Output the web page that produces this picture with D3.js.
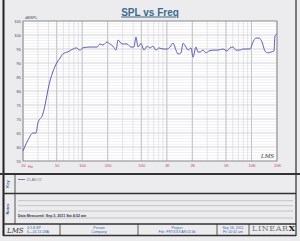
<!DOCTYPE html>
<html>
<head>
<meta charset="utf-8">
<script src="https://cdn.jsdelivr.net/npm/d3@7"></script>
<style>
body{margin:0;background:#ececef;}
svg{display:block;font-family:Arial,"Liberation Sans",sans-serif;}
</style>
</head>
<body>
<svg id="chart" width="300" height="241"></svg>
<script>
// frequency response
const freqs = [20,24,26,28.5,30,34,42,45,50,55,59,68,78,85,94,102,124,150,162,176,196,213,231,251,265,295,338,377,409,432,456,495,537,583,632,686,744,807,900,1004,1089,1182,1282,1354,1469,1551,1683,1777,1928,2036,2209,2333,2462,2672,2900,3146,3508,4018,4602,5133,5572,6040,6556,7311,7928,8844,9594,10412,11300,12256,13300,14420,15654,16980,18420,18920,20000];
const spl = [58.6,63.6,65,65,68.6,71.4,84,86.8,90,91.8,93.2,94,95,95.4,94.6,95.4,95.7,95.7,96.8,96.4,97.5,96.8,96,94.6,98.2,96.8,96.8,95.7,95.7,99.3,95.7,97,94.6,96,95.4,96,94.6,95.4,95,95,95.7,97.1,94.6,93.2,93.6,97,95.7,94.6,95.4,92.1,95.7,93.9,93.9,94.6,93.6,94.3,94.6,94.6,95,94.3,95.4,95.7,94.6,94.6,95,95,95,97.5,98.9,98.9,97.5,94.3,93.6,93.9,94.3,99.6,100.4];

const xTicks = [20,50,100,200,500,1000,2000,5000,10000,20000];
const xTickLabels = ["20","50","100","200","500","1K","2K","5K","10K","20K"];
const yTicks = [55,60,65,70,75,80,85,90,95,100,105];

const svg = d3.select("#chart");
const margin = {top:21,right:23,bottom:80,left:23},
width = 300 - margin.left - margin.right,
height = 241 - margin.top - margin.bottom;

// outer frame
svg.append("rect").attr("width",300).attr("height",241).attr("fill","#ececef");
svg.append("line").attr("x1",3.5).attr("x2",3.5).attr("y1",0).attr("y2",236).attr("stroke","#222").attr("stroke-width",2);
svg.append("line").attr("x1",296).attr("x2",296).attr("y1",0).attr("y2",236).attr("stroke","#555").attr("stroke-width",1.5);

svg.append("text").attr("x",150).attr("y",15.5).attr("text-anchor","middle")
.attr("font-size",10).attr("font-weight","bold").attr("fill","#3b6b8c")
.attr("text-decoration","underline").text("SPL vs Freq");

const g = svg.append("g").attr("transform",`translate(${margin.left},${margin.top})`);

const x = d3.scaleLog().domain([20,20000]).range([0,width]);
const y = d3.scaleLinear().domain([55,105]).range([height,0]);

g.append("rect").attr("width",width).attr("height",height).attr("fill","#fff");

// minor grid
const minorF = [];
[10,100,1000,10000].forEach(d=>{ for(let k=1;k<10;k++){ const f=d*k; if(f>=20&&f<=20000) minorF.push(f);} });
g.append("g").selectAll("line").data(minorF).join("line")
.attr("x1",d=>x(d)).attr("x2",d=>x(d)).attr("y1",0).attr("y2",height)
.attr("stroke","#d4d4d8").attr("stroke-width",0.6);
g.append("g").selectAll("line").data(d3.range(55,106,1)).join("line")
.attr("x1",0).attr("x2",width).attr("y1",d=>y(d)).attr("y2",d=>y(d))
.attr("stroke","#e0e0e4").attr("stroke-width",0.5);

// major grid
g.append("g").selectAll("line").data(xTicks).join("line")
.attr("x1",d=>x(d)).attr("x2",d=>x(d)).attr("y1",0).attr("y2",height)
.attr("stroke","#b4b4ba").attr("stroke-width",0.7);
g.append("g").selectAll("line").data(yTicks).join("line")
.attr("x1",0).attr("x2",width).attr("y1",d=>y(d)).attr("y2",d=>y(d))
.attr("stroke","#c8c8ce").attr("stroke-width",0.6);

g.append("rect").attr("width",width).attr("height",height).attr("fill","none").attr("stroke","#888").attr("stroke-width",0.8);

// axes
const xAxis = g.append("g").attr("transform",`translate(0,${height})`)
.call(d3.axisBottom(x).tickValues(xTicks).tickFormat((d,i)=>xTickLabels[i]).tickSize(0).tickPadding(3));
xAxis.selectAll("text").attr("font-size",4).attr("fill","#c8406e");
xAxis.select(".domain").remove();
g.append("text").attr("x",x(24.5)).attr("y",height+6.5).attr("text-anchor","middle")
.attr("font-size",4).attr("fill","#c8406e").text("Hz");

const yAxis = g.append("g").call(d3.axisLeft(y).tickValues(yTicks).tickSize(0).tickPadding(2));
yAxis.selectAll("text").attr("font-size",4).attr("fill","#445");
yAxis.select(".domain").remove();
g.append("text").attr("x",2).attr("y",-2).attr("font-size",4).attr("fill","#445").text("dBSPL");

// curve
const line = d3.line().x((d,i)=>x(freqs[i])).y(d=>y(d)).curve(d3.curveMonotoneX);
g.append("path").datum(spl).attr("d",line).attr("fill","none")
.attr("stroke","#5f5fae").attr("stroke-width",1);

g.append("text").attr("x",width-16).attr("y",height-3).attr("font-size",5.5)
.attr("font-style","italic").attr("font-family","DejaVu Serif").attr("fill","#333").text("LMS");

// lower panels
const lines = [[0,174,300,174,2],[3,193.5,296,193.5,1.5],[3,224,296,224,1.5],[3,235.5,296,235.5,1.5]];
lines.forEach(l=>svg.append("line").attr("x1",l[0]).attr("y1",l[1]).attr("x2",l[2]).attr("y2",l[3]).attr("stroke","#333").attr("stroke-width",l[4]));
svg.append("line").attr("x1",15).attr("x2",15).attr("y1",174).attr("y2",224).attr("stroke","#333").attr("stroke-width",0.8);
[[9,184,"Key"],[9,209,"Notes"]].forEach(t=>svg.append("text")
.attr("transform",`translate(${t[0]},${t[1]}) rotate(-90)`).attr("text-anchor","middle")
.attr("font-size",4).attr("font-weight","bold").attr("fill","#2b4f8a").text(t[2]));

svg.append("line").attr("x1",18).attr("x2",25).attr("y1",179.5).attr("y2",179.5).attr("stroke","#5f5fae").attr("stroke-width",0.8);
svg.append("text").attr("x",26.5).attr("y",181).attr("font-size",3.8).attr("fill","#777").text("25 AKO2");

[200.7,205.7,211,218].forEach(v=>svg.append("line").attr("x1",18).attr("x2",293).attr("y1",v).attr("y2",v).attr("stroke","#aaa").attr("stroke-width",0.6));
svg.append("text").attr("x",18).attr("y",217.2).attr("font-size",3.6).attr("font-weight","bold").attr("fill","#334").text("Data Measured: Sep 3, 2011 Sat 4:52 am");

// footer
[60,138,217,249].forEach(v=>svg.append("line").attr("x1",v).attr("x2",v).attr("y1",224).attr("y2",235.5).attr("stroke","#333").attr("stroke-width",0.8));
svg.append("text").attr("x",7).attr("y",233).attr("font-size",7).attr("font-style","italic").attr("font-family","DejaVu Serif").attr("fill","#333").text("LMS");
[[27,229,"4.5.8.SP","start"],[27,233,"6—16 15:28A","start"],[99,229,"Person","middle"],[99,233,"Company","middle"],
 [177,229,"Project","middle"],[177,233,"File: FRYXXX AKO2.lib","middle"],[233,229,"Sep 16, 2011","middle"],[233,233,"Fri 10:02 am","middle"]]
.forEach(t=>svg.append("text").attr("x",t[0]).attr("y",t[1]).attr("text-anchor",t[3]).attr("font-size",3.6).attr("fill","#3a5fa8").text(t[2]));
svg.append("text").attr("x",252).attr("y",231).attr("font-size",8).attr("font-family","DejaVu Serif").attr("fill","#777").attr("letter-spacing",0.6).text("LINEAR")
.append("tspan").attr("font-weight","bold").attr("fill","#111").text("X");
svg.append("text").attr("x",253).attr("y",234.5).attr("font-size",2.5).attr("fill","#8aa").attr("letter-spacing",3.5).text("SYSTEMS");
</script>
</body>
</html>
